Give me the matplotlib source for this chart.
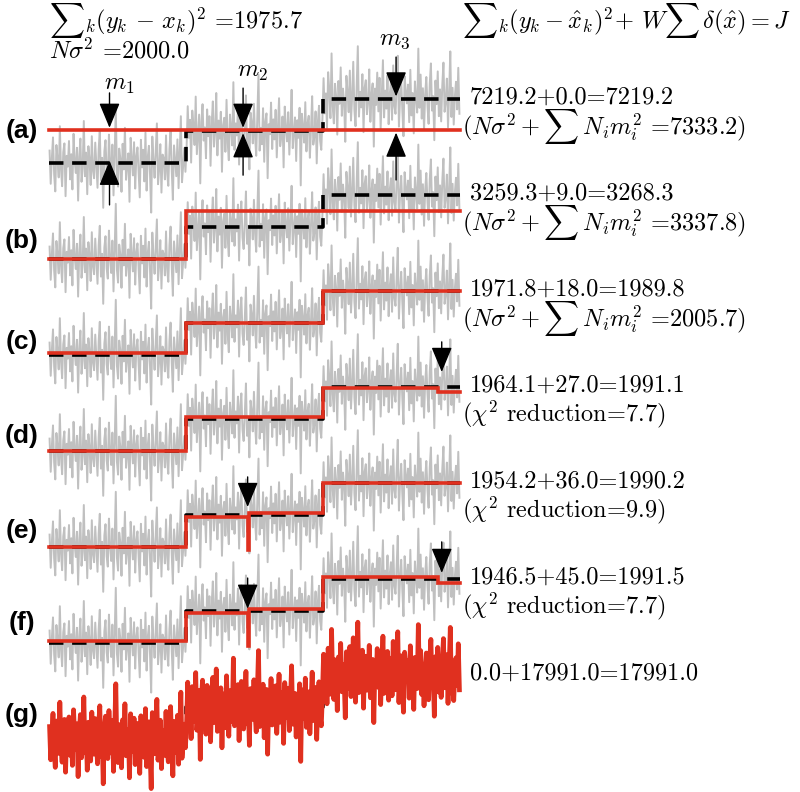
import matplotlib
matplotlib.use("Agg")
import matplotlib.pyplot as plt
import numpy as np

plt.rcParams["mathtext.fontset"] = "cm"
plt.rcParams["font.family"] = ["cmr10", "DejaVu Serif"]
plt.rcParams["axes.unicode_minus"] = False

# ---- data -------------------------------------------------------------
N_PER_SEG = 120
TRUE_LEVELS = [0.0, 1.0, 2.0]          # m1, m2, m3 (step heights)
ROW_GAP = 3.0
SIGMA = 1.25                           # noise unit, in step heights

# noise, in units of SIGMA (same y for every row)
NOISE = [
    0.31, -0.52, 0.12, 0.64, -0.28, -0.71, 0.45, 0.08, -0.36, 0.92, -0.15, -0.58, 0.27, 0.49, -0.83, 0.18, -0.09, 0.55, -0.41, 0.22,
    -0.66, 0.73, 0.04, -0.25, 0.38, -0.94, 0.16, 0.61, -0.47, -0.12, 1.05, -0.33, 0.26, -0.78, 0.42, 0.09, -0.55, 0.67, -0.19, -0.38,
    0.51, -0.07, -0.62, 0.34, 0.83, -0.44, 0.13, -1.12, 0.29, 0.57, -0.23, -0.49, 0.71, 0.02, -0.35, 0.46, -0.81, 0.19, 1.38, -0.27,
    -0.59, 0.36, 0.11, -0.72, 0.48, -0.16, 0.88, -0.42, -0.05, 0.24, -0.97, 0.63, 0.07, -0.31, 0.52, -0.64, 0.17, 0.39, -0.21, -0.86,
    0.58, -0.11, 0.33, -0.46, 0.76, -0.69, 0.14, 0.43, -0.29, -1.24, 0.66, 0.05, -0.37, 0.28, 0.99, -0.53, -0.14, 0.47, -0.74, 0.21,
    0.12, -0.41, 0.69, -0.26, -0.57, 0.35, 0.81, -0.18, -0.92, 0.44, 0.06, -0.33, 0.59, -0.63, 0.25, 1.17, -0.48, -0.08, 0.37, -0.22,
    -0.44, 0.62, -0.17, 0.28, -0.79, 0.51, 0.13, -0.35, 0.86, -0.58, -0.06, 0.41, -1.31, 0.23, 0.67, -0.24, 0.09, -0.68, 0.54, -0.13,
    0.37, -0.87, 0.18, 0.74, -0.39, -0.04, 0.95, -0.61, 0.26, -0.19, 0.48, -1.02, 0.15, 0.33, -0.52, 0.78, -0.28, -0.73, 0.41, 0.07,
    -0.36, 1.22, -0.47, 0.19, -0.11, 0.56, -0.84, 0.32, 0.64, -0.27, -0.55, 0.12, 0.89, -0.42, 0.03, -0.96, 0.46, 0.21, -0.31, 0.68,
    -0.15, -0.62, 0.39, 1.41, -0.49, 0.08, -0.33, 0.57, -0.77, 0.24, 0.44, -1.18, 0.17, -0.08, 0.71, -0.45, 0.29, -0.21, 0.53, -0.66,
    0.11, 0.82, -0.38, -0.14, 0.36, -0.91, 0.61, 0.05, -0.26, 0.47, -0.59, 0.16, 1.03, -0.43, -0.02, 0.34, -0.75, 0.27, -0.17, 0.58,
    -1.36, 0.43, 0.09, -0.29, 0.72, -0.51, 0.19, 0.38, -0.67, 0.06, 0.87, -0.34, -0.12, 0.49, -0.81, 0.22, 0.63, -0.25, -0.47, 0.31,
    0.52, -0.36, 0.14, -0.72, 0.67, 0.23, -0.48, 1.14, -0.19, -0.61, 0.38, 0.07, -0.89, 0.45, -0.12, 0.79, -0.42, 0.26, -0.06, -1.07,
    0.58, 0.16, -0.33, 0.71, -0.54, 0.04, 0.93, -0.27, -0.68, 0.35, 1.32, -0.44, 0.18, -0.21, 0.62, -0.83, 0.29, 0.47, -0.38, -0.09,
    0.74, -0.57, 0.11, 0.39, -1.19, 0.26, -0.15, 0.66, -0.31, 0.53, -0.74, 0.08, 0.97, -0.46, 0.21, -0.24, 0.59, -0.63, 0.13, 0.42,
    -0.52, 0.84, -0.18, -0.37, 0.31, 1.08, -0.69, 0.02, 0.48, -0.28, -0.93, 0.57, 0.19, -0.11, 0.36, -0.58, 0.73, -0.41, 0.15, -0.86,
    0.44, 0.03, -0.34, 1.26, -0.22, 0.61, -0.49, 0.27, -0.77, 0.12, 0.55, -0.16, -0.62, 0.38, 0.89, -0.29, 0.07, -1.03, 0.46, -0.13,
    0.69, -0.43, 0.24, -0.56, 0.35, 0.91, -0.32, -0.08, 0.51, -0.71, 0.17, 1.19, -0.45, 0.28, -0.64, 0.06, 0.43, -0.26, 0.78, -0.37,
]

ROW_LABELS = ["(a)", "(b)", "(c)", "(d)", "(e)", "(f)", "(g)"]
LABEL_DY = [1.0, 0.56, 0.4, 0.47, 0.5, 0.62, 0.75]

# estimated step fits (red), rows a-f
RED_BREAKS = [
    [0, 360],
    [0, 120, 360],
    [0, 120, 240, 360],
    [0, 120, 240, 341, 360],
    [0, 120, 174, 175, 240, 360],
    [0, 120, 174, 175, 240, 341, 360],
]
RED_LEVELS = [
    [1.04],
    [0.0, 1.5],
    [0.05, 1.0, 2.0],
    [0.0, 1.06, 1.97, 1.84],
    [0.0, 0.95, -0.1, 1.05, 2.0],
    [0.05, 0.95, -0.1, 1.05, 2.06, 1.88],
]

COST_TEXT = [
    "7219.2+0.0=7219.2",
    "3259.3+9.0=3268.3",
    "1971.8+18.0=1989.8",
    "1964.1+27.0=1991.1",
    "1954.2+36.0=1990.2",
    "1946.5+45.0=1991.5",
    "0.0+17991.0=17991.0",
]
NOTE_TEXT = [
    r"$(N\sigma^2+\sum\, N_i m_i^2$ =7333.2)",
    r"$(N\sigma^2+\sum\, N_i m_i^2$ =3337.8)",
    r"$(N\sigma^2+\sum\, N_i m_i^2$ =2005.7)",
    r"($\chi^2$ reduction=7.7)",
    r"($\chi^2$ reduction=9.9)",
    r"($\chi^2$ reduction=7.7)",
    "",
]

# arrows: (row, x sample, tail level, tip level)
ARROWS = [
    (0, 53, 2.19, 1.1), (0, 53, -1.31, 0.07),
    (0, 170, 2.34, 1.1), (0, 170, -0.38, 0.93),
    (0, 304, 3.31, 2.08), (0, 304, -0.53, 0.95),
    (3, 344, 3.41, 2.47),
    (4, 174, 2.19, 1.25),
    (5, 174, 2.03, 1.07),
    (5, 344, 3.16, 2.19),
]
M_LABELS = [(r"$m_1$", 62, 2.44), (r"$m_2$", 178, 2.84), (r"$m_3$", 303, 3.84)]

GRAY = "#c0c0c0"
RED = "#e0301f"
FS = 17.5

# ---- plot -------------------------------------------------------------
fig = plt.figure(figsize=(8, 7.92), dpi=100)
ax = fig.add_axes([0, 0, 1, 1])
ax.axis("off")
px = 411 / 360.0
ax.set_xlim(-49 / px, (800 - 49) / px)
ax.set_ylim(-(792 - 163) / 32.0, 163 / 32.0)

noise = np.array(NOISE) * SIGMA
n = len(noise)
idx = np.arange(n)
true_sig = np.repeat(TRUE_LEVELS, N_PER_SEG)
edges = [0, N_PER_SEG, 2 * N_PER_SEG, 3 * N_PER_SEG]
xs = idx + 0.5

dash_kw = dict(color="k", lw=2.6, ls=(0, (4, 2.4)), drawstyle="steps-post", zorder=3)

for r, lab in enumerate(ROW_LABELS):
    off = -ROW_GAP * r
    y = true_sig + noise + off
    if r < 6:
        ax.plot(xs, y, color=GRAY, lw=1.4, zorder=1)
        ax.plot(edges, np.array(TRUE_LEVELS + TRUE_LEVELS[-1:]) + off, **dash_kw)
        lv = RED_LEVELS[r]
        ax.plot(RED_BREAKS[r], np.array(lv + lv[-1:]) + off, color=RED, lw=2.6,
                drawstyle="steps-post", zorder=4, solid_joinstyle="miter")
    else:
        ax.plot(edges, np.array(TRUE_LEVELS + TRUE_LEVELS[-1:]) + off, **dash_kw)
        ax.plot(xs, y, color=RED, lw=3.4, zorder=4)
    ax.text(-23.6, off + LABEL_DY[r], lab, fontsize=19, fontweight="bold",
            family="Liberation Sans", ha="center", va="center")
    ax.text(368.5, off + 2.03, COST_TEXT[r], fontsize=FS, ha="left", va="center")
    if NOTE_TEXT[r]:
        ax.text(361.5, off + 1.14, NOTE_TEXT[r], fontsize=FS, ha="left", va="center")

for r, x, tail, tip in ARROWS:
    off = -ROW_GAP * r
    ax.annotate("", xy=(x, tip + off), xytext=(x, tail + off),
                arrowprops=dict(arrowstyle="-|>,head_length=0.65,head_width=0.27",
                                color="k", lw=1.0, mutation_scale=24,
                                shrinkA=0, shrinkB=0), zorder=5)

for txt, x, yv in M_LABELS:
    ax.text(x, yv, txt, fontsize=FS, ha="center", va="center")

ax.text(0, 4.45, r"${\sum}_k(y_k\,-\,x_k)^2$ =1975.7", fontsize=FS, ha="left", va="center")
ax.text(0, 3.52, r"$N\sigma^2$ =2000.0", fontsize=FS, ha="left", va="center")
ax.text(361.5, 4.45, r"${\sum}_k(y_k-\hat{x}_k)^2\!+\,W{\sum}\,\delta(\hat{x})=J$",
        fontsize=FS, ha="left", va="center")

fig.savefig("out.png", dpi=100)
